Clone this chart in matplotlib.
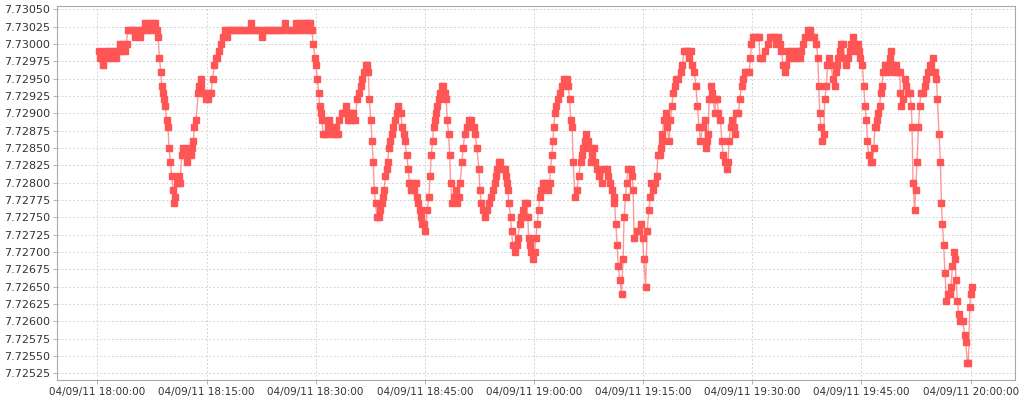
import matplotlib
matplotlib.use("Agg")
import matplotlib.pyplot as plt
import matplotlib.dates as mdates
import numpy as np
from datetime import datetime, timedelta

# minutes after 18:00 and the rate at each sample
minutes = [
    0.16, 0.30, 0.51, 0.78, 0.99, 1.20, 1.47, 1.74, 2.02, 2.29,
    2.57, 2.84, 3.05, 3.26, 3.53, 3.80, 4.01, 4.15, 4.49, 4.90,
    5.18, 5.45, 5.80, 6.00, 6.28, 6.55, 6.83, 7.10, 7.38, 7.65,
    7.93, 8.13, 8.34, 8.54, 8.71, 8.85, 9.02, 9.16, 9.34, 9.53,
    9.71, 9.85, 10.03, 10.22, 10.40, 10.54, 10.71, 10.91, 11.13, 11.22,
    11.36, 11.59, 11.81, 12.05, 12.28, 12.46, 12.66, 12.87, 13.05, 13.19,
    13.32, 13.56, 13.87, 14.01, 14.18, 14.31, 14.45, 14.66, 14.93, 15.25,
    15.41, 15.62, 15.85, 16.07, 16.26, 16.44, 16.72, 16.99, 17.31, 17.54,
    17.77, 17.95, 18.37, 18.78, 19.19, 19.60, 20.01, 20.43, 20.84, 21.07,
    21.39, 21.80, 22.21, 22.58, 22.90, 23.31, 23.72, 24.13, 24.55, 24.96,
    25.37, 25.78, 26.19, 26.61, 27.02, 27.29, 27.57, 27.84, 28.12, 28.39,
    28.67, 28.94, 29.22, 29.49, 29.67, 29.90, 30.04, 30.22, 30.41, 30.55,
    30.73, 30.87, 31.04, 31.28, 31.55, 31.76, 31.90, 32.10, 32.38, 32.65,
    32.86, 33.06, 33.24, 33.57, 33.82, 34.12, 34.30, 34.51, 34.71, 34.92,
    35.16, 35.40, 35.71, 35.95, 36.18, 36.40, 36.68, 36.87, 37.09, 37.23,
    37.36, 37.60, 37.73, 37.91, 38.05, 38.24, 38.42, 38.70, 38.87, 39.07,
    39.24, 39.42, 39.56, 39.75, 39.89, 40.07, 40.25, 40.44, 40.66, 40.89,
    41.13, 41.35, 41.68, 41.90, 42.09, 42.27, 42.50, 42.72, 42.88, 43.09,
    43.30, 43.50, 43.78, 43.91, 44.05, 44.29, 44.42, 44.60, 44.88, 45.05,
    45.33, 45.56, 45.74, 45.88, 46.07, 46.21, 46.35, 46.57, 46.70, 46.90,
    47.12, 47.35, 47.55, 47.72, 47.94, 48.08, 48.27, 48.41, 48.54, 48.76,
    49.00, 49.23, 49.45, 49.64, 49.86, 50.10, 50.27, 50.47, 50.74, 51.02,
    51.37, 51.70, 51.92, 52.16, 52.43, 52.57, 52.75, 52.94, 53.21, 53.49,
    53.76, 54.12, 54.35, 54.59, 54.77, 54.95, 55.18, 55.38, 55.59, 55.96,
    56.10, 56.28, 56.42, 56.55, 56.79, 56.92, 57.10, 57.34, 57.61, 57.79,
    58.02, 58.24, 58.48, 58.71, 59.02, 59.16, 59.26, 59.44, 59.62, 59.85,
    60.08, 60.26, 60.44, 60.63, 60.81, 60.99, 61.22, 61.57, 61.91, 62.14,
    62.28, 62.46, 62.60, 62.73, 62.87, 63.01, 63.32, 63.56, 63.79, 64.15,
    64.48, 64.70, 64.89, 65.07, 65.25, 65.38, 65.62, 65.89, 66.17, 66.40,
    66.54, 66.76, 66.99, 67.13, 67.45, 67.68, 67.82, 67.99, 68.27, 68.37,
    68.68, 68.91, 69.29, 69.64, 69.97, 70.19, 70.43, 70.66, 70.93, 71.02,
    71.25, 71.43, 71.57, 71.80, 72.03, 72.25, 72.38, 72.58, 72.72, 72.94,
    73.31, 73.49, 73.63, 73.76, 74.09, 74.40, 74.68, 74.92, 75.10, 75.33,
    75.55, 75.78, 75.96, 76.15, 76.37, 76.61, 76.84, 77.06, 77.29, 77.43,
    77.57, 77.66, 77.84, 78.08, 78.30, 78.57, 78.76, 78.94, 79.12, 79.35,
    79.56, 79.81, 80.14, 80.41, 80.59, 80.87, 81.14, 81.32, 81.55, 81.73,
    82.01, 82.24, 82.47, 82.69, 82.88, 83.16, 83.48, 83.61, 83.79, 83.93,
    84.07, 84.26, 84.40, 84.62, 84.85, 84.99, 85.16, 85.33, 85.63, 85.81,
    85.99, 86.22, 86.46, 86.68, 86.81, 87.01, 87.18, 87.46, 87.64, 87.83,
    88.10, 88.28, 88.52, 88.74, 89.01, 89.31, 89.59, 89.75, 89.89, 90.11,
    90.41, 90.69, 90.93, 91.03, 91.40, 91.72, 92.17, 92.40, 92.68, 92.95,
    93.32, 93.50, 93.78, 94.01, 94.23, 94.46, 94.70, 94.88, 95.08, 95.29,
    95.56, 95.84, 96.11, 96.39, 96.52, 96.76, 96.98, 97.21, 97.45, 97.66,
    97.90, 98.17, 98.45, 98.82, 99.00, 99.13, 99.27, 99.45, 99.64, 99.82,
    99.96, 100.19, 100.33, 100.55, 100.78, 101.10, 101.33, 101.47, 101.65, 101.84,
    102.02, 102.25, 102.47, 102.71, 102.94, 103.16, 103.39, 103.63, 103.85, 104.08,
    104.31, 104.49, 104.67, 104.86, 105.14, 105.32, 105.49, 105.69, 105.82, 106.00,
    106.28, 106.51, 106.69, 106.87, 107.06, 107.20, 107.34, 107.51, 107.65, 107.83,
    107.97, 108.20, 108.43, 108.61, 108.89, 109.12, 109.30, 109.57, 109.81, 109.99,
    110.26, 110.36, 110.49, 110.71, 110.95, 111.18, 111.40, 111.63, 111.87, 111.95,
    112.09, 112.32, 112.46, 112.64, 112.83, 113.01, 113.15, 113.46, 113.70, 113.93,
    114.15, 114.38, 114.62, 114.84, 115.07, 115.30, 115.44, 115.66, 115.85, 115.99,
    116.13, 116.30, 116.48, 116.68, 116.90, 117.13, 117.31, 117.50, 117.68, 117.86,
    118.00, 118.19, 118.37, 118.60, 118.96, 119.19, 119.33, 119.56, 119.70, 119.88,
    120.01, 120.19,
]

rates = [
    7.72990, 7.72980, 7.72980, 7.72970, 7.72980, 7.72990, 7.72980, 7.72990, 7.72980, 7.72990,
    7.72980, 7.72990, 7.73000, 7.72990, 7.73000, 7.72990, 7.73000, 7.73020, 7.73020, 7.73020,
    7.73010, 7.73020, 7.73010, 7.73020, 7.73020, 7.73030, 7.73020, 7.73030, 7.73020, 7.73030,
    7.73030, 7.73020, 7.73010, 7.72980, 7.72960, 7.72940, 7.72930, 7.72920, 7.72910, 7.72890,
    7.72880, 7.72850, 7.72830, 7.72810, 7.72790, 7.72770, 7.72780, 7.72800, 7.72800, 7.72810,
    7.72800, 7.72840, 7.72850, 7.72840, 7.72830, 7.72840, 7.72850, 7.72840, 7.72850, 7.72860,
    7.72880, 7.72890, 7.72930, 7.72940, 7.72950, 7.72940, 7.72930, 7.72930, 7.72920, 7.72920,
    7.72930, 7.72930, 7.72950, 7.72970, 7.72980, 7.72980, 7.72990, 7.73000, 7.73010, 7.73020,
    7.73010, 7.73020, 7.73020, 7.73020, 7.73020, 7.73020, 7.73020, 7.73020, 7.73020, 7.73030,
    7.73020, 7.73020, 7.73020, 7.73010, 7.73020, 7.73020, 7.73020, 7.73020, 7.73020, 7.73020,
    7.73020, 7.73030, 7.73020, 7.73020, 7.73020, 7.73030, 7.73020, 7.73030, 7.73020, 7.73030,
    7.73030, 7.73020, 7.73030, 7.73020, 7.73000, 7.72980, 7.72970, 7.72950, 7.72930, 7.72910,
    7.72900, 7.72890, 7.72870, 7.72870, 7.72870, 7.72880, 7.72890, 7.72880, 7.72870, 7.72870,
    7.72880, 7.72870, 7.72890, 7.72900, 7.72900, 7.72910, 7.72900, 7.72890, 7.72900, 7.72890,
    7.72900, 7.72890, 7.72920, 7.72930, 7.72940, 7.72950, 7.72960, 7.72970, 7.72970, 7.72960,
    7.72920, 7.72890, 7.72860, 7.72830, 7.72790, 7.72770, 7.72750, 7.72750, 7.72760, 7.72770,
    7.72780, 7.72790, 7.72810, 7.72820, 7.72830, 7.72850, 7.72860, 7.72870, 7.72880, 7.72890,
    7.72900, 7.72910, 7.72900, 7.72880, 7.72870, 7.72860, 7.72840, 7.72820, 7.72800, 7.72790,
    7.72800, 7.72790, 7.72800, 7.72780, 7.72770, 7.72760, 7.72750, 7.72740, 7.72740, 7.72730,
    7.72760, 7.72780, 7.72810, 7.72840, 7.72860, 7.72880, 7.72890, 7.72900, 7.72910, 7.72920,
    7.72930, 7.72940, 7.72940, 7.72930, 7.72920, 7.72890, 7.72870, 7.72840, 7.72800, 7.72770,
    7.72780, 7.72790, 7.72770, 7.72780, 7.72800, 7.72830, 7.72850, 7.72870, 7.72880, 7.72890,
    7.72890, 7.72880, 7.72870, 7.72850, 7.72820, 7.72790, 7.72770, 7.72760, 7.72750, 7.72760,
    7.72770, 7.72780, 7.72790, 7.72800, 7.72810, 7.72820, 7.72830, 7.72830, 7.72820, 7.72820,
    7.72810, 7.72800, 7.72790, 7.72770, 7.72750, 7.72730, 7.72710, 7.72700, 7.72710, 7.72720,
    7.72740, 7.72750, 7.72760, 7.72770, 7.72770, 7.72750, 7.72720, 7.72710, 7.72700, 7.72690,
    7.72700, 7.72720, 7.72740, 7.72760, 7.72780, 7.72790, 7.72800, 7.72800, 7.72790, 7.72800,
    7.72820, 7.72840, 7.72860, 7.72880, 7.72900, 7.72910, 7.72920, 7.72930, 7.72940, 7.72950,
    7.72950, 7.72940, 7.72920, 7.72890, 7.72880, 7.72830, 7.72780, 7.72790, 7.72810, 7.72830,
    7.72840, 7.72850, 7.72860, 7.72870, 7.72860, 7.72850, 7.72830, 7.72840, 7.72850, 7.72830,
    7.72820, 7.72810, 7.72800, 7.72820, 7.72820, 7.72810, 7.72800, 7.72790, 7.72770, 7.72780,
    7.72740, 7.72710, 7.72680, 7.72660, 7.72640, 7.72690, 7.72750, 7.72780, 7.72800, 7.72820,
    7.72820, 7.72810, 7.72790, 7.72720, 7.72730, 7.72730, 7.72740, 7.72720, 7.72690, 7.72650,
    7.72730, 7.72760, 7.72780, 7.72800, 7.72790, 7.72800, 7.72810, 7.72840, 7.72840, 7.72850,
    7.72860, 7.72870, 7.72890, 7.72900, 7.72880, 7.72860, 7.72890, 7.72910, 7.72930, 7.72940,
    7.72950, 7.72950, 7.72960, 7.72970, 7.72990, 7.72990, 7.72990, 7.72980, 7.72990, 7.72970,
    7.72960, 7.72940, 7.72910, 7.72880, 7.72860, 7.72880, 7.72890, 7.72850, 7.72860, 7.72870,
    7.72920, 7.72940, 7.72930, 7.72920, 7.72900, 7.72920, 7.72920, 7.72900, 7.72890, 7.72860,
    7.72840, 7.72830, 7.72820, 7.72830, 7.72860, 7.72880, 7.72890, 7.72880, 7.72870, 7.72900,
    7.72900, 7.72920, 7.72940, 7.72950, 7.72960, 7.72960, 7.72960, 7.72980, 7.73000, 7.73010,
    7.73010, 7.73010, 7.73010, 7.72980, 7.72980, 7.72990, 7.73000, 7.73010, 7.73010, 7.73010,
    7.73000, 7.73010, 7.73000, 7.72990, 7.72970, 7.72960, 7.72970, 7.72990, 7.72980, 7.72990,
    7.72980, 7.72990, 7.72980, 7.72990, 7.72980, 7.72990, 7.73000, 7.73010, 7.73010, 7.73020,
    7.73020, 7.73010, 7.73010, 7.73000, 7.72980, 7.72940, 7.72900, 7.72880, 7.72860, 7.72870,
    7.72920, 7.72940, 7.72970, 7.72980, 7.72970, 7.72950, 7.72940, 7.72960, 7.72970, 7.72980,
    7.72990, 7.73000, 7.73000, 7.72980, 7.72970, 7.72980, 7.72990, 7.73000, 7.73010, 7.73000,
    7.72990, 7.73000, 7.72990, 7.72980, 7.72970, 7.72940, 7.72910, 7.72890, 7.72860, 7.72840,
    7.72830, 7.72830, 7.72850, 7.72880, 7.72880, 7.72890, 7.72900, 7.72910, 7.72930, 7.72940,
    7.72960, 7.72970, 7.72970, 7.72960, 7.72980, 7.72990, 7.72970, 7.72960, 7.72970, 7.72960,
    7.72960, 7.72930, 7.72910, 7.72920, 7.72950, 7.72940, 7.72930, 7.72930, 7.72910, 7.72880,
    7.72800, 7.72760, 7.72790, 7.72830, 7.72880, 7.72910, 7.72930, 7.72930, 7.72940, 7.72950,
    7.72960, 7.72970, 7.72970, 7.72980, 7.72960, 7.72950, 7.72920, 7.72870, 7.72830, 7.72770,
    7.72740, 7.72710, 7.72670, 7.72630, 7.72640, 7.72640, 7.72650, 7.72680, 7.72700, 7.72690,
    7.72660, 7.72630, 7.72610, 7.72600, 7.72600, 7.72580, 7.72570, 7.72540, 7.72540, 7.72620,
    7.72640, 7.72650,
]

start = datetime(2011, 4, 9, 18, 0, 0)
times = [start + timedelta(minutes=m) for m in minutes]

fig = plt.figure(figsize=(10.24, 4.0), dpi=100)
ax = fig.add_axes([0.0557, 0.0508, 0.9355, 0.935])

ax.plot(times, rates, color="#ff5555", lw=1.0, alpha=0.6, zorder=2)
ax.plot(times, rates, ls="none", marker="s", ms=4.3, color="#ff5555",
        mec="#ff5555", zorder=3)

ax.set_xlim(start - timedelta(minutes=5.54), start + timedelta(minutes=126.1))
ax.set_ylim(7.725159, 7.730552)

ax.set_yticks(np.arange(7.72525, 7.730501, 0.00025))
ax.yaxis.set_major_formatter(plt.FormatStrFormatter("%.5f"))
ax.xaxis.set_major_locator(mdates.MinuteLocator(byminute=[0, 15, 30, 45]))
ax.xaxis.set_major_formatter(mdates.DateFormatter("%m/%d/%y %H:%M:%S"))

ax.grid(True, color="#d4d4d4", lw=0.7, ls=(0, (2, 2)))
ax.set_axisbelow(True)
for s in ax.spines.values():
    s.set_color("#a8a8a8")
    s.set_linewidth(0.8)
ax.tick_params(axis="both", length=3, width=0.6, color="#a8a8a8",
               labelcolor="#333333", pad=2)
ax.tick_params(axis="y", labelsize=8)
ax.tick_params(axis="x", labelsize=7.5)

fig.savefig("out.png", dpi=100, facecolor="white")
